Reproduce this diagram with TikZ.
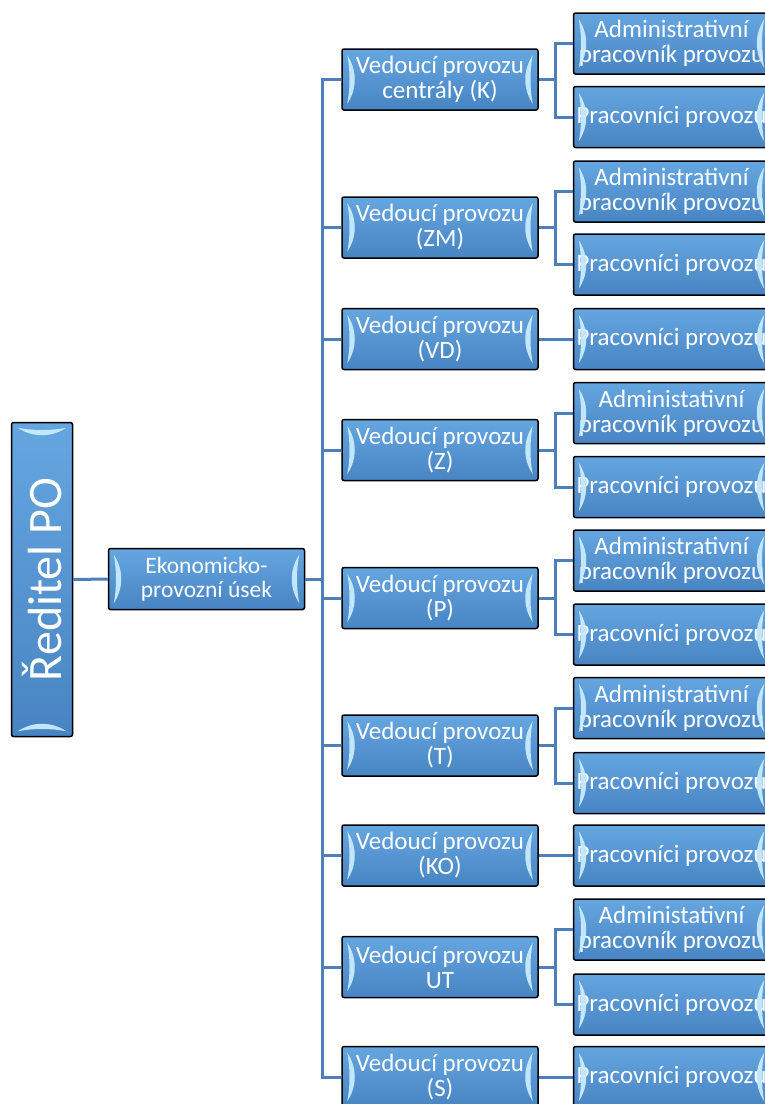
\documentclass[tikz,border=0pt]{standalone}
\usepackage{fontspec}
\setmainfont{Carlito}
\definecolor{boxtop}{HTML}{65A6E0}
\definecolor{boxbot}{HTML}{4884C3}
\definecolor{linkblue}{HTML}{4F7FB9}
\definecolor{glint}{HTML}{C8ECFF}
% light side bars inside a box
\newcommand{\glint}[1]{%
\fill[glint,opacity=0.95] ([shift={(6,7)}]#1.north west) .. controls +(10,15) and +(10,-15) .. ([shift={(6,-7)}]#1.south west) .. controls +(3,-15) and +(3,15) .. ([shift={(6,7)}]#1.north west);
\fill[glint,opacity=0.95] ([shift={(-6,7)}]#1.north east) .. controls +(-10,15) and +(-10,-15) .. ([shift={(-6,-7)}]#1.south east) .. controls +(-3,-15) and +(-3,15) .. ([shift={(-6,7)}]#1.north east);}
\begin{document}
\begin{tikzpicture}[x=1pt,y=-1pt,
  unit/.style={draw=black, line width=1.5pt, rounded corners=2pt, top color=boxtop, bottom color=boxbot,
    text=white, align=center, inner sep=0pt, minimum width=196pt, minimum height=61pt,
    font=\fontsize{25}{25}\selectfont},
  link/.style={draw=linkblue, line width=3pt}]
\useasboundingbox (0,0) rectangle (765,1104);

\node[unit, minimum width=61pt, minimum height=314pt, font=\fontsize{48}{48}\selectfont] (dir) at (42,579.5) {\rotatebox{90}{Ředitel PO}};
\node[unit, font=\fontsize{23.5}{24}\selectfont] (ekon) at (206.5,579) {Ekonomicko-\\provozní úsek};

% vedouci provozu
\node[unit] (vK) at (440,79.5) {Vedoucí provozu\\centrály (K)};
\node[unit] (vZM) at (440,227.5) {Vedoucí provozu\\(ZM)};
\node[unit] (vVD) at (440,339) {Vedoucí provozu\\(VD)};
\node[unit] (vZ) at (440,450) {Vedoucí provozu\\(Z)};
\node[unit] (vP) at (440,598) {Vedoucí provozu\\(P)};
\node[unit] (vT) at (440,745.5) {Vedoucí provozu\\(T)};
\node[unit] (vKO) at (440,855.5) {Vedoucí provozu\\(KO)};
\node[unit] (vUT) at (440,967) {Vedoucí provozu\\UT};
\node[unit] (vS) at (440,1077) {Vedoucí provozu\\(S)};

% pracovnici
\node[unit] (aK) at (671.5,43.5) {Administrativní\\pracovník provozu};
\node[unit] (pK) at (671.5,117) {Pracovníci provozu};
\node[unit] (aZM) at (671.5,191.5) {Administrativní\\pracovník provozu};
\node[unit] (pZM) at (671.5,264.5) {Pracovníci provozu};
\node[unit] (pVD) at (671.5,339) {Pracovníci provozu};
\node[unit] (aZ) at (671.5,413) {Administativní\\pracovník provozu};
\node[unit] (pZ) at (671.5,487) {Pracovníci provozu};
\node[unit] (aP) at (671.5,560.5) {Administrativní\\pracovník provozu};
\node[unit] (pP) at (671.5,634.5) {Pracovníci provozu};
\node[unit] (aT) at (671.5,708) {Administrativní\\pracovník provozu};
\node[unit] (pT) at (671.5,783) {Pracovníci provozu};
\node[unit] (pKO) at (671.5,855.5) {Pracovníci provozu};
\node[unit] (aUT) at (671.5,929.5) {Administativní\\pracovník provozu};
\node[unit] (pUT) at (671.5,1004.5) {Pracovníci provozu};
\node[unit] (pS) at (671.5,1077) {Pracovníci provozu};

\fill[glint,opacity=0.95] ([shift={(7,6)}]dir.north west) .. controls +(15,10) and +(-15,10) .. ([shift={(-7,6)}]dir.north east) .. controls +(-15,3) and +(15,3) .. ([shift={(7,6)}]dir.north west);
\fill[glint,opacity=0.95] ([shift={(7,-6)}]dir.south west) .. controls +(15,-10) and +(-15,-10) .. ([shift={(-7,-6)}]dir.south east) .. controls +(-15,-3) and +(15,-3) .. ([shift={(7,-6)}]dir.south west);
\foreach \n in {ekon,vK,vZM,vVD,vZ,vP,vT,vKO,vUT,vS,aK,pK,aZM,pZM,pVD,aZ,pZ,aP,pP,aT,pT,pKO,aUT,pUT,pS}
  {\glint{\n}}

\draw[link] (dir.east) -- (ekon.west);
\foreach \v in {vK,vZM,vVD,vZ,vP,vT,vKO,vUT,vS}
  \draw[link] (ekon.east) -- ++(17,0) |- (\v.west);
\foreach \s in {K,ZM,Z,P,T,UT}
  {\draw[link] (v\s.east) -- ++(17,0) |- (a\s.west);
   \draw[link] (v\s.east) -- ++(17,0) |- (p\s.west);}
\foreach \s in {VD,KO,S}
  \draw[link] (v\s.east) -- (p\s.west);
\end{tikzpicture}
\end{document}
